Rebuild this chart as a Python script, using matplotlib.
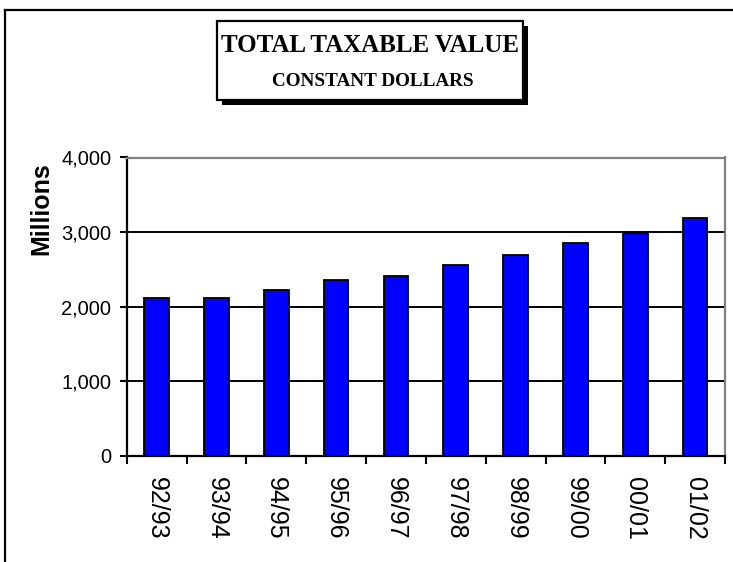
import matplotlib
matplotlib.use("Agg")
import matplotlib.pyplot as plt
from matplotlib.patches import Rectangle
from matplotlib.lines import Line2D
from matplotlib.ticker import FuncFormatter, FixedLocator

years = ['92/93', '93/94', '94/95', '95/96', '96/97', '97/98', '98/99', '99/00', '00/01', '01/02']
values = [2121, 2121, 2229, 2363, 2417, 2552, 2686, 2848, 2990, 3195]
y_ticks = [0, 1000, 2000, 3000, 4000]

W, H = 733, 562
fig = plt.figure(figsize=(W / 100, H / 100), dpi=100)
fig.patch.set_facecolor('white')

def fx(px):
    return px / W

def fy(py):
    return 1 - py / H

# outer frame (only top and left show in the picture)
fig.add_artist(Line2D([fx(5), fx(733)], [fy(10), fy(10)], color='black', lw=1.6))
fig.add_artist(Line2D([fx(5), fx(5)], [fy(10), fy(562)], color='black', lw=1.6))

ax = fig.add_axes([fx(126.7), fy(455.7), fx(725) - fx(126.7), fy(157.5) - fy(455.7)])
x = list(range(len(years)))
ax.bar(x, values, width=0.41, color='#0000FF', edgecolor='black', linewidth=1.3, zorder=3)

ax.set_xlim(-0.5, len(years) - 0.5)
ax.set_ylim(0, 4000)
ax.set_yticks(y_ticks)
ax.yaxis.set_major_formatter(FuncFormatter(lambda v, p: f'{int(v):,}'))
ax.grid(axis='y', color='black', lw=1.4, zorder=1)

# category labels centred, ticks at category borders
ax.set_xticks(x)
ax.set_xticklabels(years, rotation=-90, fontsize=18, family='Liberation Sans')
ax.tick_params(axis='x', length=0, pad=15)
ax.xaxis.set_minor_locator(FixedLocator([i - 0.5 for i in range(len(years) + 1)]))
ax.tick_params(axis='x', which='minor', length=6, width=1.5, color='black')
ax.tick_params(axis='y', length=5, width=1.5, pad=6, labelsize=14.5)
for lab in ax.get_yticklabels():
    lab.set_family('Liberation Sans')

ax.spines['left'].set_color('black')
ax.spines['left'].set_linewidth(1.6)
ax.spines['bottom'].set_color('black')
ax.spines['bottom'].set_linewidth(1.6)
ax.spines['bottom'].set_zorder(4)
ax.spines['top'].set_color('#808080')
ax.spines['top'].set_linewidth(1.6)
ax.spines['right'].set_color('#808080')
ax.spines['right'].set_linewidth(1.6)

fig.text(fx(41), fy(209), 'Millions', rotation=90, fontsize=18, fontweight='bold',
         family='Liberation Sans', ha='center', va='center')

# title box with drop shadow
bx0, bx1, by0, by1 = 217, 523, 21.5, 100
fig.add_artist(Rectangle((fx(bx0 + 5), fy(by1 + 5)), fx(bx1) - fx(bx0), fy(by0) - fy(by1),
                         transform=fig.transFigure, facecolor='black', edgecolor='black', lw=0))
fig.add_artist(Rectangle((fx(bx0), fy(by1)), fx(bx1) - fx(bx0), fy(by0) - fy(by1),
                         transform=fig.transFigure, facecolor='white', edgecolor='black', lw=1.6))
fig.text(fx(370), fy(45), 'TOTAL TAXABLE VALUE', fontsize=18, fontweight='bold',
         family='Liberation Serif', ha='center', va='center')
fig.text(fx(373), fy(81.5), 'CONSTANT DOLLARS', fontsize=13.8, fontweight='bold',
         family='Liberation Serif', ha='center', va='center')

fig.savefig('out.png', dpi=100)
